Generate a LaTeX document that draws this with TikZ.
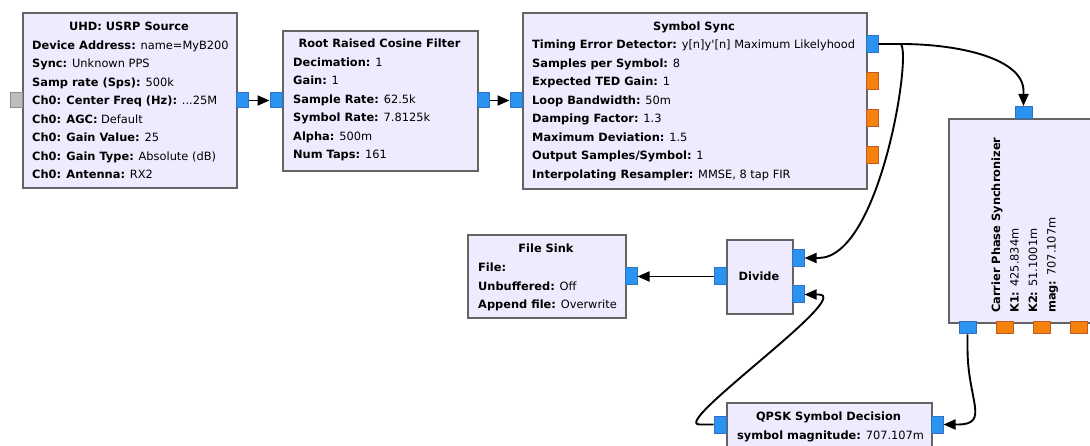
\documentclass[tikz,border=0pt]{standalone}
\usepackage{fontspec}
\setmainfont{DejaVu Sans}
\usetikzlibrary{arrows.meta}

\definecolor{blockfill}{HTML}{EFEBFE}
\definecolor{blockedge}{HTML}{646464}
\definecolor{portblue}{HTML}{2A94F0}
\definecolor{portblueedge}{HTML}{3470C0}
\definecolor{portorange}{HTML}{F5820A}
\definecolor{portorangeedge}{HTML}{C05A28}
\definecolor{portgray}{HTML}{BDBDBD}
\definecolor{portgrayedge}{HTML}{8C8C8C}

\newcommand\fs{\fontsize{11.4pt}{13pt}\selectfont}
\newcommand\kv[2]{\textbf{#1:} #2}
% parameter lines of a block: name prefix, x, first baseline, list of lines
\newcommand\paramlines[4]{%
  \foreach \entry [count=\k] in {#4}{%
    \node[ln] (#1-\k) at (#2,{#3+18.5*(\k-1)}) {\entry};}}

\tikzset{
  blk/.style={draw=blockedge, fill=blockfill, line width=1.8pt, anchor=north west, inner sep=0pt},
  pblue/.style={draw=portblueedge, fill=portblue, line width=1pt, inner sep=0pt},
  porange/.style={draw=portorangeedge, fill=portorange, line width=1pt, inner sep=0pt},
  pgray/.style={draw=portgrayedge, fill=portgray, line width=1pt, inner sep=0pt},
  hport/.style={minimum width=12pt, minimum height=15pt},
  vport/.style={minimum width=17pt, minimum height=12pt},
  tport/.style={minimum width=12pt, minimum height=17pt},
  ttl/.style={font=\fs\bfseries, anchor=base, inner sep=0pt},
  ln/.style={font=\fs, anchor=base west, inner sep=0pt},
  rln/.style={font=\fs, anchor=base west, inner sep=0pt, rotate=90},
  conn/.style={draw=black, line width=1.9pt, -{Triangle[length=12pt,width=10pt]}},
}

\begin{document}
\begin{tikzpicture}[x=1pt,y=-1pt]
\useasboundingbox (0,0) rectangle (1090,446);
\clip (0,0) rectangle (1090,446);

% ---- blocks ----
\node[blk, minimum width=214pt, minimum height=175pt] (usrp) at (22,12) {};
\node[blk, minimum width=195pt, minimum height=140pt] (rrc) at (282,30) {};
\node[blk, minimum width=344pt, minimum height=176pt] (ss) at (522,12) {};
\node[blk, minimum width=170pt, minimum height=204pt] (cp) at (948,118) {};
\node[blk, minimum width=158pt, minimum height=83pt] (fs) at (467,234) {};
\node[blk, minimum width=66pt, minimum height=74pt] (div) at (726,239) {};
\node[blk, minimum width=205pt, minimum height=60pt] (qp) at (726,402) {};

% ---- block texts ----
\node[ttl] (usrp-t) at (129,31) {UHD: USRP Source};
\paramlines{usrp}{32}{49.5}{%
  {\kv{Device Address}{name=MyB200}},
  {\kv{Sync}{Unknown PPS}},
  {\kv{Samp rate (Sps)}{500k}},
  {\kv{Ch0: Center Freq (Hz)}{...25M}},
  {\kv{Ch0: AGC}{Default}},
  {\kv{Ch0: Gain Value}{25}},
  {\kv{Ch0: Gain Type}{Absolute (dB)}},
  {\kv{Ch0: Antenna}{RX2}}}

\node[ttl] (rrc-t) at (379.5,47.5) {Root Raised Cosine Filter};
\paramlines{rrc}{293}{66.5}{%
  {\kv{Decimation}{1}},
  {\kv{Gain}{1}},
  {\kv{Sample Rate}{62.5k}},
  {\kv{Symbol Rate}{7.8125k}},
  {\kv{Alpha}{500m}},
  {\kv{Num Taps}{161}}}

\node[ttl] (ss-t) at (694,30.5) {Symbol Sync};
\paramlines{ss}{532}{49}{%
  {\kv{Timing Error Detector}{y[n]y\textquotesingle[n] Maximum Likelyhood}},
  {\kv{Samples per Symbol}{8}},
  {\kv{Expected TED Gain}{1}},
  {\kv{Loop Bandwidth}{50m}},
  {\kv{Damping Factor}{1.3}},
  {\kv{Maximum Deviation}{1.5}},
  {\kv{Output Samples/Symbol}{1}},
  {\kv{Interpolating Resampler}{MMSE, 8 tap FIR}}}

\node[ttl] (fs-t) at (546,252.5) {File Sink};
\paramlines{fs}{478}{272}{%
  {\kv{File}{}},
  {\kv{Unbuffered}{Off}},
  {\kv{Append file}{Overwrite}}}

\node[ttl] (div-t) at (759,281) {Divide};

\node[ttl] (qp-t) at (828.5,420.5) {QPSK Symbol Decision};
\paramlines{qp}{737}{439}{{\kv{symbol magnitude}{707.107m}}}

\node[rln, font=\fs\bfseries] (cp-t) at (1000,313) {Carrier Phase Synchronizer};
\node[rln] (cp-1) at (1018.5,313) {\kv{K1}{425.834m}};
\node[rln] (cp-2) at (1037,313) {\kv{K2}{51.1001m}};
\node[rln] (cp-3) at (1055.5,313) {\kv{mag}{707.107m}};

% ---- ports ----
\node[pgray, hport] (usrp-in) at (16,100.5) {};
\node[pblue, hport] (usrp-out) at (242.5,100.5) {};
\node[pblue, hport] (rrc-in) at (276,100.5) {};
\node[pblue, hport] (rrc-out) at (483,100.5) {};
\node[pblue, hport] (ss-in) at (516,100.5) {};
\node[pblue, tport] (ss-out) at (872,44) {};
\node[porange, tport] (ss-m1) at (872,81) {};
\node[porange, tport] (ss-m2) at (872,118.5) {};
\node[porange, tport] (ss-m3) at (872,155.5) {};
\node[pblue, vport] (cp-in) at (1023.5,112.5) {};
\node[pblue, vport] (cp-out) at (967.5,328) {};
\node[porange, vport] (cp-m1) at (1004.5,328) {};
\node[porange, vport] (cp-m2) at (1041.5,328) {};
\node[porange, vport] (cp-m3) at (1078.5,328) {};
\node[pblue, tport] (fs-in) at (631,276.5) {};
\node[pblue, tport] (div-out) at (720,276.5) {};
\node[pblue, tport] (div-in0) at (798,258) {};
\node[pblue, tport] (div-in1) at (798,294.5) {};
\node[pblue, tport] (qp-out) at (720,424.5) {};
\node[pblue, tport] (qp-in) at (937,424.5) {};

% ---- connections ----
\draw[conn] (usrp-out.east) -- (rrc-in.west);
\draw[conn] (rrc-out.east) -- (ss-in.west);
\draw[conn] (ss-out.east) -- ++(22,0) coordinate (ss-split)
  .. controls +(60,0) and +(0,-32) .. ([yshift=15pt]cp-in.north) -- (cp-in.north);
\draw[conn] (ss-split) .. controls +(12,6) and +(62,0) .. ([xshift=14pt]div-in0.east) -- (div-in0.east);
\draw[conn] (div-out.west) -- (fs-in.east);
\draw[conn] (cp-out.south) -- ++(0,14)
  .. controls +(0,52) and +(33,0) .. ([xshift=14pt]qp-in.east) -- (qp-in.east);
\draw[conn] (qp-out.west) -- ++(-14,0)
  .. controls +(-30,0) and +(37,0) .. ([xshift=14pt]div-in1.east) -- (div-in1.east);
\end{tikzpicture}
\end{document}
